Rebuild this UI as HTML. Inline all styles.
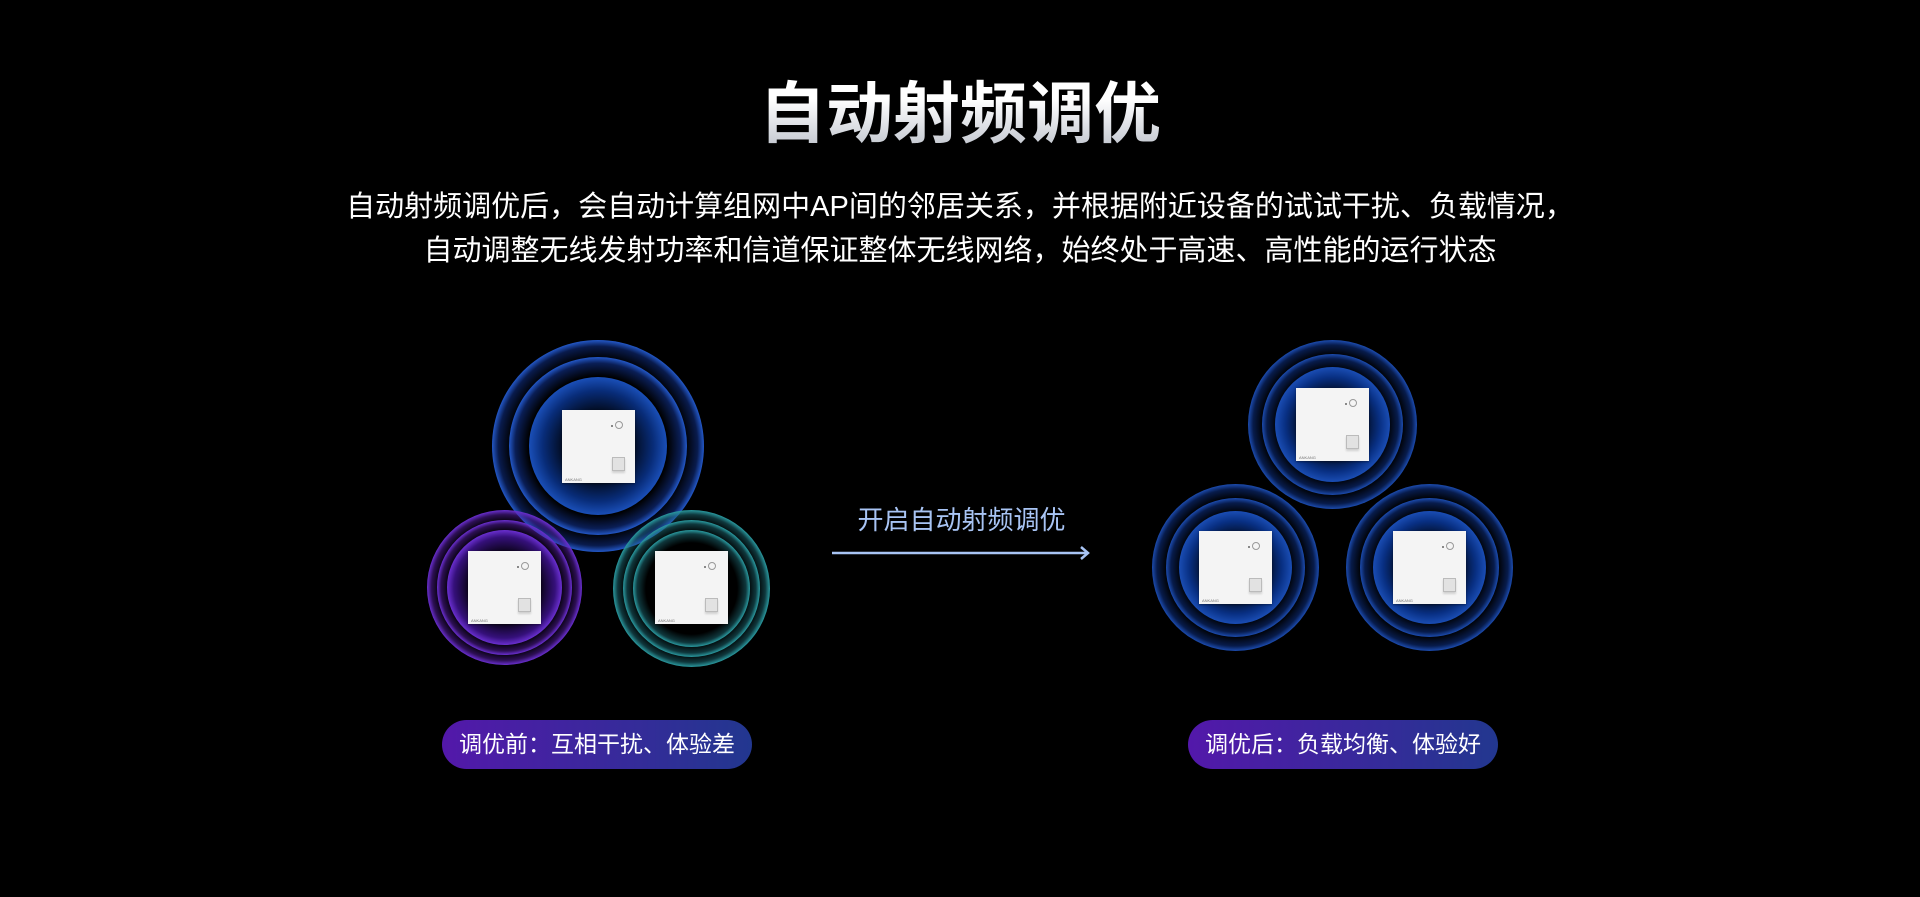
<!DOCTYPE html>
<html><head><meta charset="utf-8">
<style>
html,body{margin:0;padding:0;background:#000;}
body{width:1920px;height:897px;position:relative;overflow:hidden;font-family:"Liberation Sans","Noto Sans CJK SC",sans-serif;color:#fff;}
.title{position:absolute;left:0;width:1920px;top:75px;text-align:center;font-size:67px;font-weight:bold;line-height:80px;
 background:linear-gradient(180deg,#ffffff 30%,#b9bec8 100%);-webkit-background-clip:text;background-clip:text;color:transparent;}
.sub{position:absolute;left:0;width:1920px;top:185px;text-align:center;font-size:29px;line-height:44px;color:#fff;}
.c{position:absolute;border-radius:50%;}
.ap{position:absolute;width:73px;height:73px;background:#f4f4f4;box-shadow:0 1px 2px rgba(0,0,0,.4);}
.ap .o{position:absolute;left:53px;top:11px;width:6px;height:6px;border:1px solid #999;border-radius:50%;}
.ap .d{position:absolute;left:49px;top:15px;width:2px;height:2px;background:#888;}
.ap .p{position:absolute;left:50px;top:47px;width:11px;height:12px;background:#e2e2e2;border:1px solid #bbb;box-shadow:0 2px 2px rgba(0,0,0,.15);}
.ap .t{position:absolute;left:3px;bottom:1px;font-size:4px;color:#777;}
.pill{position:absolute;top:720px;height:49px;width:310px;border-radius:25px;background:linear-gradient(90deg,#5318aa,#22378f);
 font-size:23px;line-height:49px;text-align:center;color:#fff;}
.arrowt{position:absolute;left:833px;width:257px;top:502px;text-align:center;font-size:26px;line-height:36px;color:#a8c4f4;}
</style></head><body>
<div class="title">自动射频调优</div>
<div class="sub">自动射频调优后，会自动计算组网中AP间的邻居关系，并根据附近设备的试试干扰、负载情况，<br>自动调整无线发射功率和信道保证整体无线网络，始终处于高速、高性能的运行状态</div>

<!-- left top blue -->
<div class="c" style="left:492px;top:340px;width:212px;height:212px;background:radial-gradient(closest-side,rgba(0,0,0,0) 82%,rgba(20,60,170,.45) 94%,#2358c8 100%);"></div>
<div class="c" style="left:509px;top:357px;width:178px;height:178px;background:radial-gradient(closest-side,#000 78%,rgba(20,60,170,.5) 93%,#2358c8 100%);"></div>
<div class="c" style="left:529px;top:377px;width:138px;height:138px;background:radial-gradient(closest-side,#000 40%,#082c78 80%,#1a4fb8 100%);"></div>
<!-- purple -->
<div class="c" style="left:427px;top:510px;width:155px;height:155px;background:radial-gradient(closest-side,rgba(0,0,0,0) 84%,rgba(90,30,170,.5) 94%,#6a2fd0 100%);"></div>
<div class="c" style="left:437px;top:520px;width:135px;height:135px;background:radial-gradient(closest-side,#000 82%,rgba(90,30,170,.5) 94%,#6a2fd0 100%);"></div>
<div class="c" style="left:447px;top:530px;width:115px;height:115px;background:radial-gradient(closest-side,#000 55%,#35107a 88%,#6a2fd0 100%);"></div>
<!-- teal -->
<div class="c" style="left:613px;top:510px;width:157px;height:157px;background:radial-gradient(closest-side,rgba(0,0,0,0) 84%,rgba(30,110,120,.5) 94%,#2a9aa0 100%);"></div>
<div class="c" style="left:623px;top:520px;width:137px;height:137px;background:radial-gradient(closest-side,#000 82%,rgba(30,110,120,.5) 94%,#2a9aa0 100%);"></div>
<div class="c" style="left:633px;top:530px;width:117px;height:117px;background:radial-gradient(closest-side,#000 78%,rgba(30,110,120,.5) 93%,#2a9aa0 100%);"></div>

<div class="ap" style="left:562px;top:410px;"><div class="d"></div><div class="o"></div><div class="p"></div><div class="t">ANKANG</div></div>
<div class="ap" style="left:468px;top:551px;"><div class="d"></div><div class="o"></div><div class="p"></div><div class="t">ANKANG</div></div>
<div class="ap" style="left:655px;top:551px;"><div class="d"></div><div class="o"></div><div class="p"></div><div class="t">ANKANG</div></div>

<!-- right cluster -->
<div class="c" style="left:1248px;top:340px;width:169px;height:169px;background:radial-gradient(closest-side,rgba(0,0,0,0) 82%,rgba(15,55,150,.5) 94%,#1c4cb0 100%);"></div>
<div class="c" style="left:1262px;top:354px;width:141px;height:141px;background:radial-gradient(closest-side,#000 78%,rgba(15,55,150,.5) 93%,#1c4cb0 100%);"></div>
<div class="c" style="left:1275px;top:367px;width:115px;height:115px;background:radial-gradient(closest-side,#000 45%,#082f82 82%,#1a4db4 100%);"></div>

<div class="c" style="left:1152px;top:484px;width:167px;height:167px;background:radial-gradient(closest-side,rgba(0,0,0,0) 82%,rgba(15,55,150,.5) 94%,#1c4cb0 100%);"></div>
<div class="c" style="left:1166px;top:498px;width:139px;height:139px;background:radial-gradient(closest-side,#000 78%,rgba(15,55,150,.5) 93%,#1c4cb0 100%);"></div>
<div class="c" style="left:1179px;top:511px;width:113px;height:113px;background:radial-gradient(closest-side,#000 45%,#082f82 82%,#1a4db4 100%);"></div>

<div class="c" style="left:1346px;top:484px;width:167px;height:167px;background:radial-gradient(closest-side,rgba(0,0,0,0) 82%,rgba(15,55,150,.5) 94%,#1c4cb0 100%);"></div>
<div class="c" style="left:1360px;top:498px;width:139px;height:139px;background:radial-gradient(closest-side,#000 78%,rgba(15,55,150,.5) 93%,#1c4cb0 100%);"></div>
<div class="c" style="left:1373px;top:511px;width:113px;height:113px;background:radial-gradient(closest-side,#000 45%,#082f82 82%,#1a4db4 100%);"></div>

<div class="ap" style="left:1296px;top:388px;"><div class="d"></div><div class="o"></div><div class="p"></div><div class="t">ANKANG</div></div>
<div class="ap" style="left:1199px;top:531px;"><div class="d"></div><div class="o"></div><div class="p"></div><div class="t">ANKANG</div></div>
<div class="ap" style="left:1393px;top:531px;"><div class="d"></div><div class="o"></div><div class="p"></div><div class="t">ANKANG</div></div>

<div class="arrowt">开启自动射频调优</div>
<svg style="position:absolute;left:830px;top:544px" width="265" height="18">
<line x1="2" y1="9" x2="258" y2="9" stroke="#a8c4f4" stroke-width="2.5"/>
<polyline points="251,3 258,9 251,15" fill="none" stroke="#a8c4f4" stroke-width="2.5"/>
</svg>

<div class="pill" style="left:442px;">调优前：互相干扰、体验差</div>
<div class="pill" style="left:1188px;">调优后：负载均衡、体验好</div>
</body></html>
